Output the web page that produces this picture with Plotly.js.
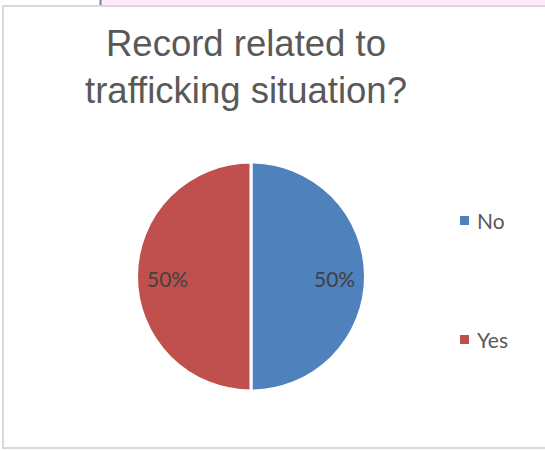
<!DOCTYPE html>
<html>
<head>
<meta charset="utf-8">
<script src="https://cdn.plot.ly/plotly-3.0.1.min.js"></script>
<style>
html,body{margin:0;padding:0;background:#fff;}
#chart{width:545px;height:451px;}
</style>
</head>
<body>
<div id="chart"></div>
<script>
var categories = ["No", "Yes"];
var values = [50, 50];
var colors = ["#4F81BD", "#C0504D"];
var titleLines = ["Record related to", "trafficking situation?"];

var W = 545, H = 451;
function px(x){ return x / W; }
function py(y){ return 1 - y / H; }

var cx = 251, cy = 276.5, r = 114.5;

var trace = {
  type: "pie",
  labels: categories,
  values: values,
  sort: false,
  direction: "clockwise",
  rotation: 0,
  marker: {colors: colors, line: {color: "#FFFFFF", width: 3}},
  textinfo: "none",
  hoverinfo: "label+percent",
  showlegend: false,
  domain: {x: [px(cx - r), px(cx + r)], y: [py(cy + r), py(cy - r)]}
};

var shapes = [
  {type: "rect", xref: "paper", yref: "paper", x0: px(100), x1: px(560), y0: py(5), y1: py(0),
   fillcolor: "#FDEAFD", line: {width: 0}, layer: "below"},
  {type: "line", xref: "paper", yref: "paper", x0: px(100.5), x1: px(100.5), y0: py(5), y1: py(0),
   line: {color: "#7F7F7F", width: 2}},
  {type: "rect", xref: "paper", yref: "paper", x0: px(3), x1: px(560), y0: py(448), y1: py(6),
   fillcolor: "rgba(0,0,0,0)", line: {color: "#D9D9D9", width: 2}}
];

var annotations = [];

// slice percentage labels, placed along each slice's mid-angle
var total = values.reduce(function(a, b){ return a + b; }, 0);
var cum = 0;
values.forEach(function(v, i){
  var mid = (cum + v / 2) / total;          // fraction clockwise from top
  cum += v;
  var ang = mid * 2 * Math.PI;
  var lx = cx + 0.73 * r * Math.sin(ang);
  var ly = cy + 2;
  annotations.push({xref: "paper", yref: "paper", x: px(lx), y: py(ly),
    xanchor: "center", yanchor: "middle", showarrow: false,
    text: Math.round(v / total * 100) + "%",
    font: {family: "Lato, 'Open Sans', sans-serif", size: 21, color: "#404040"}});
});

// legend entries
var legendY = [220, 339];
categories.forEach(function(c, i){
  var y = legendY[i];
  shapes.push({type: "rect", xref: "paper", yref: "paper",
    x0: px(460), x1: px(469), y0: py(y + 5), y1: py(y - 4),
    fillcolor: colors[i], line: {width: 0}});
  annotations.push({xref: "paper", yref: "paper", x: px(475), y: py(y), xanchor: "left", yanchor: "middle",
    text: c, showarrow: false,
    font: {family: "Lato, 'Open Sans', sans-serif", size: 21, color: "#595959"}});
});

var layout = {
  width: W, height: H,
  margin: {l: 0, r: 0, t: 0, b: 0},
  paper_bgcolor: "#FFFFFF",
  title: {
    text: titleLines.join("<br>"),
    font: {family: "'Liberation Sans', Arial, sans-serif", size: 36.5, color: "#595959"},
    x: px(246), xanchor: "center",
    y: py(56), yanchor: "top"
  },
  shapes: shapes,
  annotations: annotations,
  showlegend: false
};

Plotly.newPlot("chart", [trace], layout, {displayModeBar: false, staticPlot: true});
</script>
</body>
</html>
